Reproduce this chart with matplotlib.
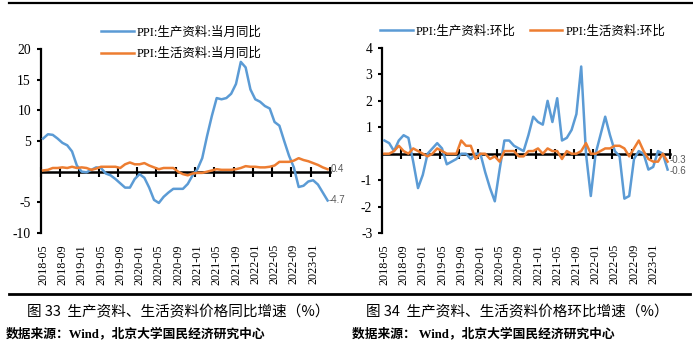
import matplotlib
matplotlib.use('Agg')
import matplotlib.pyplot as plt
from matplotlib.lines import Line2D
import numpy as np
import pandas as pd

# ---------------- data ----------------
months = pd.period_range('2018-05', '2023-04', freq='M').strftime('%Y-%m').tolist()

prod_yoy = [5.4, 6.1, 6.0, 5.4, 4.7, 4.3, 3.3, 1.0,
            0.0, -0.1, 0.3, 0.7, 0.6, -0.3, -0.6, -1.2, -1.9, -2.6, -2.6, -1.2,
            -0.4, -1.0, -2.6, -4.6, -5.1, -4.1, -3.4, -2.8, -2.8, -2.8, -2.0, -0.6,
            0.4, 2.2, 5.8, 9.1, 12.0, 11.8, 12.0, 12.7, 14.3, 17.9, 17.0, 13.4,
            11.8, 11.4, 10.7, 10.3, 8.1, 7.5, 5.0, 2.6, 0.7, -2.5, -2.3, -1.6,
            -1.4, -2.1, -3.4, -4.7]
cons_yoy = [0.2, 0.3, 0.6, 0.6, 0.7, 0.6, 0.8, 0.6,
            0.7, 0.6, 0.3, 0.5, 0.8, 0.8, 0.8, 0.8, 0.6, 1.2, 1.5, 1.2,
            1.2, 1.4, 1.0, 0.7, 0.4, 0.6, 0.6, 0.6, 0.0, -0.4, -0.6, -0.3,
            -0.2, -0.2, 0.0, 0.2, 0.4, 0.3, 0.3, 0.3, 0.4, 0.6, 0.9, 0.8,
            0.8, 0.7, 0.7, 0.8, 1.0, 1.6, 1.6, 1.6, 1.8, 2.2, 1.9, 1.7,
            1.4, 1.1, 0.7, 0.4]
prod_mom = [0.5, 0.4, 0.1, 0.5, 0.7, 0.6, -0.3, -1.3,
            -0.8, 0.0, 0.2, 0.4, 0.2, -0.4, -0.3, -0.2, 0.0, 0.0, -0.2, 0.0,
            0.0, -0.7, -1.3, -1.8, -0.6, 0.5, 0.5, 0.3, 0.2, 0.1, 0.7, 1.4,
            1.2, 1.1, 2.0, 1.2, 2.1, 0.5, 0.6, 0.9, 1.5, 3.3, 0.0, -1.6,
            0.0, 0.7, 1.4, 0.7, 0.1, -0.1, -1.7, -1.6, -0.2, 0.1, 0.0, -0.6,
            -0.5, 0.1, 0.0, -0.6]
cons_mom = [0.0, 0.0, 0.1, 0.3, 0.1, 0.0, 0.2, 0.1,
            0.0, -0.1, 0.0, 0.2, 0.1, 0.0, 0.0, 0.0, 0.5, 0.3, 0.3, -0.2,
            0.0, 0.0, -0.2, -0.1, -0.3, 0.1, 0.1, 0.1, -0.1, -0.1, 0.1, 0.1,
            0.2, 0.0, 0.2, 0.1, 0.1, -0.2, 0.1, 0.0, 0.0, 0.1, 0.4, 0.0,
            0.0, 0.1, 0.2, 0.2, 0.3, 0.3, 0.2, -0.1, 0.2, 0.5, 0.1, -0.2,
            -0.3, -0.3, 0.0, -0.3]

left_labels = ['PPI:生产资料:当月同比', 'PPI:生活资料:当月同比']
right_labels = ['PPI:生产资料:环比', 'PPI:生活资料:环比']
left_yticks = [-10, -5, 5, 10, 15, 20]
right_yticks = [-3, -2, -1, 1, 2, 3, 4]
captions = ['图 33  生产资料、生活资料价格同比增速（%）', '图 34  生产资料、生活资料价格环比增速（%）']
sources = ['数据来源：Wind，北京大学国民经济研究中心', '数据来源： Wind，北京大学国民经济研究中心']

# ---------------- style ----------------
BLUE = '#5B9BD5'
ORANGE = '#ED7D31'
SERIF = ['Liberation Serif', 'Noto Sans CJK SC', 'DejaVu Sans']
CJK = ['Noto Sans CJK SC', 'DejaVu Sans']
plt.rcParams['font.family'] = SERIF

W, H = 693, 353
fig = plt.figure(figsize=(W / 100, H / 100), dpi=100)


def fx(px):
    return px / W


def fy(py):
    return 1 - py / H


def make_panel(rect, s1, s2, ylim, yticks, labels, end_offsets):
    ax = fig.add_axes(rect)
    x = np.arange(len(months))
    ax.plot(x, s1, color=BLUE, lw=1.8, label=labels[0], zorder=3)
    ax.plot(x, s2, color=ORANGE, lw=1.8, label=labels[1], zorder=3)
    ax.set_xlim(-0.5, len(months) - 0.5)
    ax.set_ylim(*ylim)
    for s in ['top', 'right', 'bottom']:
        ax.spines[s].set_visible(False)
    ax.spines['left'].set_linewidth(1.6)
    ax.set_yticks(yticks)
    ax.set_yticklabels([str(v) for v in yticks], fontsize=9.8)
    ax.tick_params(axis='y', direction='out', length=3, width=1.5, pad=4)
    ax.set_xticks(x[::4])
    ax.set_xticklabels(months[::4], rotation=90, fontsize=8.7)
    ax.tick_params(axis='x', length=0, pad=8)
    loc = (0 - ylim[0]) / (ylim[1] - ylim[0])
    sec = ax.secondary_xaxis(loc)
    sec.set_xticks(np.arange(-0.5, len(months), 4))
    sec.tick_params(direction='inout', length=7, width=1.5, labelbottom=False, labeltop=False)
    sec.spines['bottom'].set_linewidth(1.8)
    # end data labels
    for s, off in zip([s1, s2], end_offsets):
        ax.annotate(f'{s[-1]:g}', xy=(x[-1], s[-1]), xytext=off, textcoords='offset points',
                    va='center', ha='left', fontsize=7, color='#595959',
                    family=['Liberation Sans', 'DejaVu Sans'])
    return ax


ax1 = make_panel([fx(40.7), fy(233), fx(289.3), 184 / H], prod_yoy, cons_yoy,
                 (-10, 20), left_yticks, left_labels, [(0.5, 0), (2.5, 0)])
ax2 = make_panel([fx(382), fy(233), fx(288), 185 / H], prod_mom, cons_mom,
                 (-3, 4), right_yticks, right_labels, [(1.5, -1), (1.5, 1)])

leg1 = ax1.legend(loc='upper left', bbox_to_anchor=(fx(101), fy(26.5)), bbox_transform=fig.transFigure,
                  frameon=False, borderpad=0, borderaxespad=0, handlelength=2.6, handletextpad=0.25,
                  labelspacing=0.7, prop={'family': SERIF, 'size': 9.0})
leg2 = ax2.legend(loc='upper left', bbox_to_anchor=(fx(380), fy(25.5)), bbox_transform=fig.transFigure,
                  ncol=2, frameon=False, borderpad=0, borderaxespad=0, handlelength=2.6,
                  handletextpad=0.25, columnspacing=1.15, prop={'family': SERIF, 'size': 9.0})

# captions / sources
fig.text(fx(27), fy(312), captions[0], fontsize=10.5, va='center', ha='left', family=CJK)
fig.text(fx(366), fy(312), captions[1], fontsize=10.5, va='center', ha='left', family=CJK)
fig.text(fx(6), fy(334), sources[0], fontsize=9.2, va='center', ha='left', family=SERIF, weight='bold')
fig.text(fx(352), fy(334), sources[1], fontsize=9.2, va='center', ha='left', family=SERIF, weight='bold')

# frame rules
fig.add_artist(Line2D([fx(9), 1], [fy(3), fy(3)], transform=fig.transFigure, color='black', lw=1.6))
fig.add_artist(Line2D([fx(9), fx(690)], [fy(293.5), fy(293.5)], transform=fig.transFigure,
                      color='black', lw=2.0))

fig.savefig('out.png', dpi=100)
